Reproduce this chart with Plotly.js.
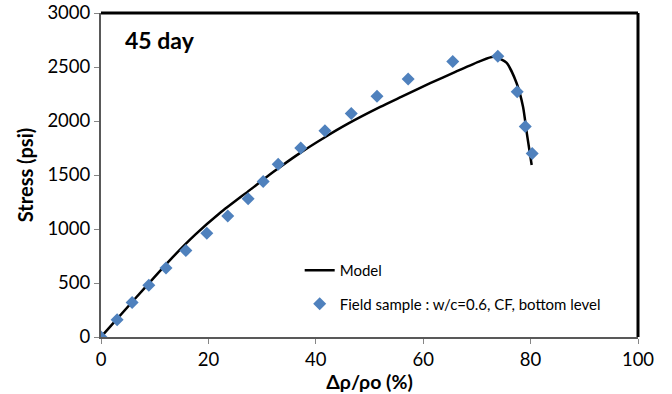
<!DOCTYPE html>
<html>
<head>
<meta charset="utf-8">
<script src="https://cdn.plot.ly/plotly-3.0.1.min.js"></script>
<style>html,body{margin:0;padding:0;background:#fff;}#chart{width:672px;height:394px;}</style>
</head>
<body>
<div id="chart"></div>
<script>
// Measured data (Field sample)
const sampleX = [0, 3.0, 5.8, 8.9, 12.1, 15.8, 19.7, 23.6, 27.4, 30.2, 33.0, 37.2, 41.7, 46.6, 51.4, 57.2, 65.5, 73.9, 77.5, 79.0, 80.3];
const sampleY = [0, 160, 320, 480, 640, 800, 960, 1120, 1280, 1440, 1600, 1750, 1910, 2070, 2230, 2390, 2550, 2600, 2270, 1950, 1700];
// Model curve
const modelX = [0, 6, 12.8, 17.5, 22.2, 27.7, 32, 37.1, 41.7, 46, 52, 56, 61.3, 66, 70.6, 73.1, 75.5, 77.4, 78.6, 79.3, 80.2];
const modelY = [0, 336, 710, 945, 1150, 1360, 1525, 1705, 1850, 1975, 2130, 2225, 2350, 2455, 2555, 2595, 2540, 2350, 2130, 1886, 1593];
const xTicks = [0, 20, 40, 60, 80, 100];
const yTicks = [0, 500, 1000, 1500, 2000, 2500, 3000];

const FONT = 'Lato, "Open Sans", sans-serif';

const traces = [
  {
    x: modelX, y: modelY, type: 'scatter', mode: 'lines', name: 'Model',
    line: {color: '#000000', width: 2.5, shape: 'spline', smoothing: 0.6},
    legendgroup: 'a'
  },
  {
    x: sampleX, y: sampleY, type: 'scatter', mode: 'markers',
    name: 'Field sample : w/c=0.6, CF, bottom level',
    marker: {symbol: 'diamond', size: 10, color: '#4F81BD'},
    legendgroup: 'b'
  }
];

const layout = {
  width: 672, height: 394,
  margin: {l: 101, r: 34, t: 13, b: 57},
  paper_bgcolor: '#ffffff', plot_bgcolor: '#ffffff',
  font: {family: FONT, size: 18.5, color: '#000000'},
  showlegend: true,
  legend: {
    x: 0.37, y: 0.154, xanchor: 'left', yanchor: 'middle',
    font: {family: FONT, size: 15, color: '#000000'},
    tracegroupgap: 11, bgcolor: 'rgba(0,0,0,0)'
  },
  xaxis: {
    range: [0, 100], tickvals: xTicks, ticktext: xTicks.map(String),
    ticks: 'outside', ticklen: 5, tickcolor: '#868686', tickwidth: 1,
    showline: true, linecolor: '#595959', linewidth: 2,
    showgrid: false, zeroline: false,
    tickfont: {family: FONT, size: 18.5},
    title: {text: 'Δρ/ρo (%)', font: {family: FONT, size: 19.5, weight: 'bold'}, standoff: 0}
  },
  yaxis: {
    range: [0, 3000], tickvals: yTicks, ticktext: yTicks.map(String),
    ticks: 'outside', ticklen: 5, tickcolor: '#868686', tickwidth: 1,
    showline: true, linecolor: '#595959', linewidth: 2,
    showgrid: false, zeroline: false,
    tickfont: {family: FONT, size: 18.5},
    title: {text: 'Stress (psi)', font: {family: FONT, size: 20, weight: 'bold'}, standoff: 8}
  },
  shapes: [
    {type: 'line', xref: 'paper', yref: 'paper', x0: 0, x1: 1, y0: 1, y1: 1, line: {color: '#000000', width: 3}},
    {type: 'line', xref: 'paper', yref: 'paper', x0: 1, x1: 1, y0: 0, y1: 1, line: {color: '#000000', width: 3}}
  ],
  annotations: [
    {text: '45 day', xref: 'paper', yref: 'paper', x: 0.041, y: 0.917, xanchor: 'left', yanchor: 'middle',
     showarrow: false, font: {family: FONT, size: 23, weight: 'bold', color: '#000000'}}
  ]
};

Plotly.newPlot('chart', traces, layout, {displayModeBar: false, staticPlot: true});
</script>
</body>
</html>
